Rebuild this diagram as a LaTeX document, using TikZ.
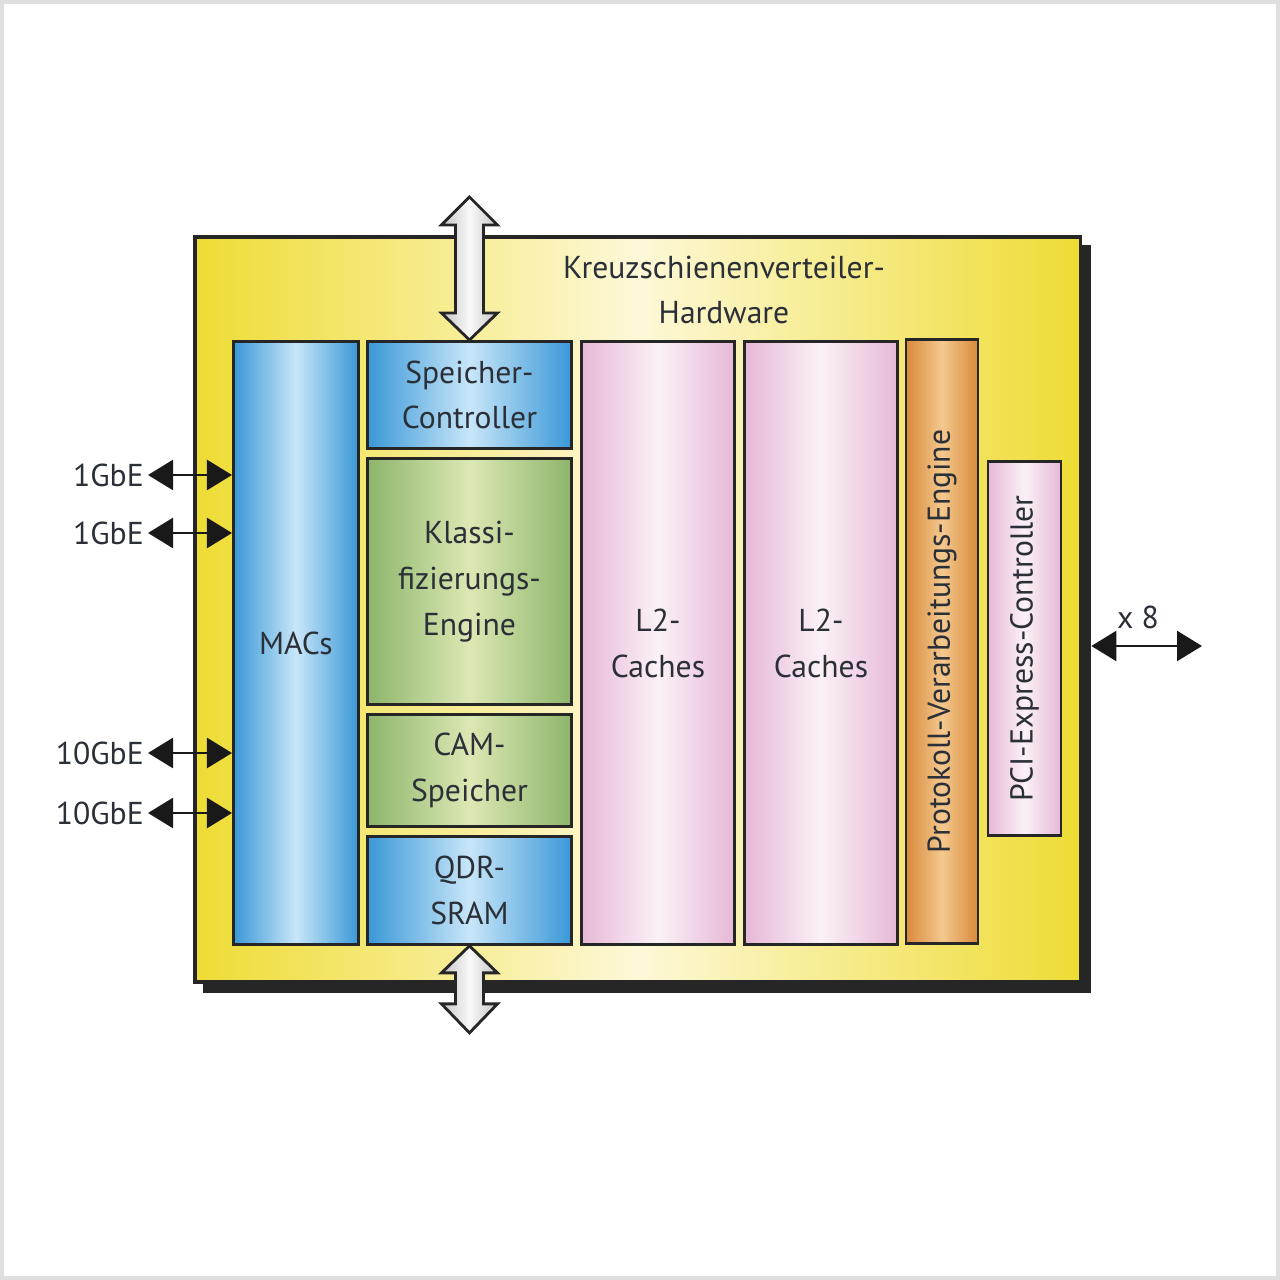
\documentclass[tikz,border=0pt]{standalone}
\usepackage{fontspec}
\setmainfont{PT Sans}
\usetikzlibrary{arrows.meta}

\definecolor{txt}{HTML}{2B3038}
\definecolor{yeldk}{HTML}{EEDC34}
\definecolor{yellt}{HTML}{FDF8D8}
\definecolor{bluedk}{HTML}{3A98D8}
\definecolor{bluelt}{HTML}{C8E6F8}
\definecolor{grndk}{HTML}{8DB56A}
\definecolor{grnlt}{HTML}{DCE8B4}
\definecolor{pnkdk}{HTML}{E6B8D6}
\definecolor{pnklt}{HTML}{FBF1F7}
\definecolor{orgdk}{HTML}{D98A3A}
\definecolor{orglt}{HTML}{F4C88E}

\begin{document}
\begin{tikzpicture}[x=0.01cm,y=-0.01cm,font=\fontsize{9}{13}\selectfont,text=txt]
    \tikzstyle{blk}=[draw=black!85,line width=0.8pt,inner sep=0pt,align=center,anchor=north west]
    \tikzstyle{bluebox}=[blk,left color=bluedk,right color=bluedk,middle color=bluelt]
    \tikzstyle{greenbox}=[blk,left color=grndk,right color=grndk,middle color=grnlt]
    \tikzstyle{pinkbox}=[blk,left color=pnkdk,right color=pnkdk,middle color=pnklt]
    \tikzstyle{sidebox}=[blk,anchor=center,rotate=90]
    \tikzstyle{io}=[{Triangle[length=2.5mm,width=3mm]}-{Triangle[length=2.5mm,width=3mm]},line width=0.7pt,black!90]
    \tikzstyle{busarrow}=[draw=black!85,line width=0.8pt,left color=gray!45,right color=gray!45,middle color=gray!5]
    \tikzstyle{port}=[inner sep=1pt,anchor=east]

    \useasboundingbox (0,0) rectangle (1280,1280);
    \draw[gray!25,line width=1.2pt] (2,2) rectangle (1278,1278);

    % main box with shadow
    \node[blk,fill=black!85] (shd) at (203,245) [minimum width=8.85cm,minimum height=7.45cm] {};
    \node[blk,line width=1pt,left color=yeldk,right color=yeldk,middle color=yellt] (hw) at (193,235) [minimum width=8.85cm,minimum height=7.45cm] {};
    \node (title) at (724,290) [align=center] {Kreuzschienenverteiler-\\Hardware};

    % inner blocks
    \node[bluebox] (macs) at (232,340) [minimum width=1.25cm,minimum height=6.03cm] {MACs};
    \node[bluebox] (spc) at (366,340) [minimum width=2.04cm,minimum height=1.07cm] {Speicher-\\Controller};
    \node[greenbox] (kle) at (366,457) [minimum width=2.04cm,minimum height=2.46cm] {Klassi-\\fizierungs-\\Engine};
    \node[greenbox] (cam) at (366,713) [minimum width=2.04cm,minimum height=1.12cm] {CAM-\\Speicher};
    \node[bluebox] (qdr) at (366,835) [minimum width=2.04cm,minimum height=1.08cm] {QDR-\\SRAM};
    \node[pinkbox] (l2a) at (580,340) [minimum width=1.53cm,minimum height=6.03cm] {L2-\\Caches};
    \node[pinkbox] (l2b) at (743,340) [minimum width=1.53cm,minimum height=6.03cm] {L2-\\Caches};
    \node[sidebox,left color=orgdk,right color=orgdk,middle color=orglt] (pve) at (942,641.5) [minimum width=6.03cm,minimum height=0.72cm] {Protokoll-Verarbeitungs-Engine};
    \node[sidebox,left color=pnkdk,right color=pnkdk,middle color=pnklt] (pci) at (1024.5,648.5) [minimum width=3.73cm,minimum height=0.73cm] {PCI-Express-Controller};

    % memory buses
    \draw[busarrow] (spc.north) -- ++(-28,-27) -- ++(14,0) -- ++(0,-88) -- ++(-14,0) -- ++(28,-28)
        -- ++(28,28) -- ++(-14,0) -- ++(0,88) -- ++(14,0) -- cycle;
    \draw[busarrow] (qdr.south) -- ++(-28,27) -- ++(14,0) -- ++(0,31) -- ++(-14,0) -- ++(28,29)
        -- ++(28,-29) -- ++(-14,0) -- ++(0,-31) -- ++(14,0) -- cycle;

    % ethernet ports
    \foreach \name/\y/\lbl in {ga/475/1GbE, gb/533/1GbE, xa/753/10GbE, xb/813/10GbE}
    {
        \node[port] (\name) at (148,\y) {\lbl};
        \draw[io] (\name.east) -- (\name -| macs.west);
    }

    % pci express link
    \coordinate (pcie) at (1202,646);
    \draw[io] (shd.east |- pcie) -- (pcie);
    \node (lanes) at (1138,617) {x 8};
\end{tikzpicture}
\end{document}
